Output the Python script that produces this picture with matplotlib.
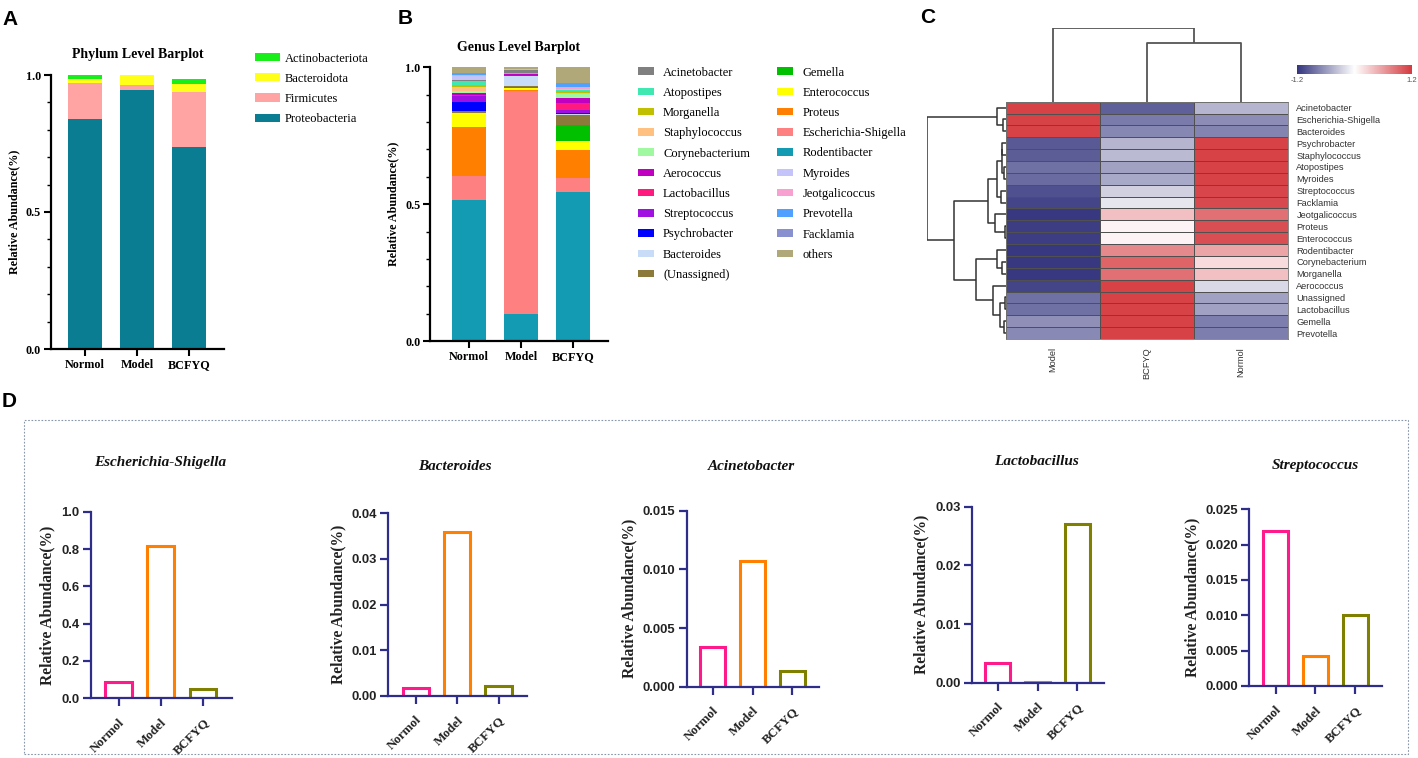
import numpy as np
import matplotlib
matplotlib.use('Agg')
import matplotlib.pyplot as plt
from matplotlib.colors import LinearSegmentedColormap
from matplotlib.patches import Patch, Rectangle
from matplotlib.ticker import MultipleLocator

W, H = 1418, 758
serif = 'Liberation Serif'
sans = 'Liberation Sans'
plt.rcParams['font.family'] = [sans, 'DejaVu Sans']

# ---------------- data ----------------
groups = ['Normol', 'Model', 'BCFYQ']

# Panel A (phylum), stacked bottom -> top
phyla = ['Proteobacteria', 'Firmicutes', 'Bacteroidota', 'Actinobacteriota']
proteobacteria = [0.838, 0.945, 0.736]
firmicutes = [0.132, 0.018, 0.203]
bacteroidota = [0.014, 0.037, 0.028]
actinobacteriota = [0.016, 0.000, 0.018]

# Panel B (genus), values for Normol, Model, BCFYQ
rodentibacter = [0.515, 0.097, 0.546]
escherichia = [0.087, 0.815, 0.048]
proteus = [0.180, 0.005, 0.105]
enterococcus = [0.050, 0.008, 0.030]
gemella = [0.001, 0.004, 0.062]
unassigned = [0.007, 0.002, 0.036]
bacteroides = [0.0018, 0.036, 0.0022]
psychrobacter = [0.030, 0.001, 0.004]
streptococcus = [0.022, 0.0042, 0.010]
lactobacillus = [0.0033, 0.0002, 0.027]
aerococcus = [0.008, 0.002, 0.018]
corynebacterium = [0.007, 0.001, 0.014]
staphylococcus = [0.017, 0.001, 0.003]
morganella = [0.005, 0.001, 0.008]
atopostipes = [0.017, 0.001, 0.003]
acinetobacter = [0.0034, 0.0107, 0.0013]
myroides = [0.012, 0.002, 0.004]
jeotgalicoccus = [0.007, 0.001, 0.005]
prevotella = [0.001, 0.0005, 0.012]
facklamia = [0.005, 0.002, 0.004]
others = [0.0205, 0.0054, 0.058]

genus_stack = [
    ('Rodentibacter', rodentibacter), ('Escherichia-Shigella', escherichia),
    ('Proteus', proteus), ('Enterococcus', enterococcus), ('Gemella', gemella),
    ('(Unassigned)', unassigned), ('Bacteroides', bacteroides),
    ('Psychrobacter', psychrobacter), ('Streptococcus', streptococcus),
    ('Lactobacillus', lactobacillus), ('Aerococcus', aerococcus),
    ('Corynebacterium', corynebacterium), ('Staphylococcus', staphylococcus),
    ('Morganella', morganella), ('Atopostipes', atopostipes),
    ('Acinetobacter', acinetobacter), ('Myroides', myroides),
    ('Jeotgalicoccus', jeotgalicoccus), ('Prevotella', prevotella),
    ('Facklamia', facklamia), ('others', others)]
genus_legend_order = ['Acinetobacter', 'Atopostipes', 'Morganella', 'Staphylococcus',
                      'Corynebacterium', 'Aerococcus', 'Lactobacillus', 'Streptococcus',
                      'Psychrobacter', 'Bacteroides', '(Unassigned)', 'Gemella',
                      'Enterococcus', 'Proteus', 'Escherichia-Shigella', 'Rodentibacter',
                      'Myroides', 'Jeotgalicoccus', 'Prevotella', 'Facklamia', 'others']

# Panel C heatmap (z-scores)
hm_rows = ['Acinetobacter', 'Escherichia-Shigella', 'Bacteroides', 'Psychrobacter',
           'Staphylococcus', 'Atopostipes', 'Myroides', 'Streptococcus', 'Facklamia',
           'Jeotgalicoccus', 'Proteus', 'Enterococcus', 'Rodentibacter', 'Corynebacterium',
           'Morganella', 'Aerococcus', 'Unassigned', 'Lactobacillus', 'Gemella', 'Prevotella']
hm_cols = ['Model', 'BCFYQ', 'Normol']
z_model = [1.15, 1.15, 1.15, -0.98, -0.96, -0.85, -0.88, -1.04, -1.10, -1.18, -1.15, -1.15,
           -1.18, -1.18, -1.18, -1.10, -0.85, -0.85, -0.66, -0.70]
z_bcfyq = [-0.94, -0.78, -0.71, -0.44, -0.41, -0.56, -0.51, -0.28, -0.15, 0.38, 0.07, 0.07,
           0.72, 0.94, 0.87, 1.15, 1.15, 1.15, 1.15, 1.15]
z_normol = [-0.44, -0.68, -0.73, 1.15, 1.15, 1.15, 1.15, 1.12, 1.10, 0.87, 1.07, 1.07,
            0.55, 0.21, 0.38, -0.23, -0.56, -0.56, -0.76, -0.76]
row_tree = (237,
            (25, 'Acinetobacter', (7, 'Escherichia-Shigella', 'Bacteroides')),
            (154,
             (52,
              (25,
               (12, (10, 'Psychrobacter', 'Staphylococcus'), (5, 'Atopostipes', 'Myroides')),
               (15, 'Streptococcus', 'Facklamia')),
              (32, 'Jeotgalicoccus', (2, 'Proteus', 'Enterococcus'))),
             (90,
              (25, 'Rodentibacter', (12, 'Corynebacterium', 'Morganella')),
              (39, 'Aerococcus', (17, (2, 'Unassigned', 'Lactobacillus'),
                                  (4, 'Gemella', 'Prevotella'))))))
col_tree = (220, 'Model', (175, 'BCFYQ', 'Normol'))

# Panel D
d_titles = ['Escherichia-Shigella', 'Bacteroides', 'Acinetobacter', 'Lactobacillus', 'Streptococcus']
d_values = [escherichia, bacteroides, acinetobacter, lactobacillus, streptococcus]
d_ymax = [1.0, 0.04, 0.015, 0.03, 0.025]
d_ystep = [0.2, 0.01, 0.005, 0.01, 0.005]
d_fmt = ['%.1f', '%.2f', '%.3f', '%.2f', '%.3f']

# ---------------- styles ----------------
phylum_colors = ['#0b7d92', '#ffa3a3', '#ffff1a', '#1aee1a']
genus_colors = {
    'Acinetobacter': '#808080', 'Atopostipes': '#3ee8b0', 'Morganella': '#c0c000',
    'Staphylococcus': '#ffc080', 'Corynebacterium': '#a0f8a0', 'Aerococcus': '#c000c0',
    'Lactobacillus': '#ff1a80', 'Streptococcus': '#a010e0', 'Psychrobacter': '#0000ff',
    'Bacteroides': '#c8dcf8', '(Unassigned)': '#8b7a3a', 'Gemella': '#00c000',
    'Enterococcus': '#ffff00', 'Proteus': '#ff8000', 'Escherichia-Shigella': '#ff8080',
    'Rodentibacter': '#129bb3', 'Myroides': '#c4c4fa', 'Jeotgalicoccus': '#f8a0d0',
    'Prevotella': '#50a0ff', 'Facklamia': '#8890d0', 'others': '#b0a878'}
group_edge = ['#ff1a8c', '#ff8000', '#808000']
navy = '#2e2e8a'

fig = plt.figure(figsize=(W / 100, H / 100), dpi=100)


def add_px(l, t, r, b):
    return fig.add_axes([l / W, 1 - b / H, (r - l) / W, (b - t) / H])


def style_stack(ax, title, xlim):
    ax.set_xlim(*xlim)
    ax.set_ylim(0, 1)
    for s in ['top', 'right']:
        ax.spines[s].set_visible(False)
    for s in ['left', 'bottom']:
        ax.spines[s].set_linewidth(1.6)
    ax.set_xticks(range(3))
    ax.set_xticklabels(groups, fontfamily=serif, fontweight='bold', fontsize=8.7)
    ax.set_yticks([0, 0.5, 1.0])
    ax.set_yticklabels(['0.0', '0.5', '1.0'], fontfamily=serif, fontweight='bold', fontsize=8.7)
    ax.yaxis.set_minor_locator(MultipleLocator(0.1))
    ax.tick_params(axis='both', which='major', length=5, width=1.5, pad=2)
    ax.tick_params(axis='y', which='minor', length=3, width=1.0)
    ax.set_ylabel('Relative Abundance(%)', fontfamily=serif, fontweight='bold', fontsize=8.7, labelpad=4)
    ax.set_title(title, fontfamily=serif, fontweight='bold', fontsize=10, pad=12)


# ---------------- Panel A ----------------
axA = add_px(50.7, 75, 224, 349)
x = np.arange(3)
bottom = np.zeros(3)
for vals, col in zip([proteobacteria, firmicutes, bacteroidota, actinobacteriota], phylum_colors):
    axA.bar(x, vals, 0.65, bottom=bottom, color=col, linewidth=0)
    bottom += np.array(vals)
style_stack(axA, 'Phylum Level Barplot', (-0.66, 2.67))
handlesA = [Patch(facecolor=c, edgecolor='none') for c in phylum_colors[::-1]]
fig.legend(handlesA, phyla[::-1], loc='upper left', bbox_to_anchor=(255 / W, 1 - 52.5 / H),
           frameon=False, prop=dict(family=serif, size=9), handlelength=2.0, handleheight=0.64,
           handletextpad=0.4, labelspacing=0.66, borderaxespad=0, borderpad=0)

# ---------------- Panel B ----------------
axB = add_px(430, 67.3, 608, 341)
bottom = np.zeros(3)
for name, vals in genus_stack:
    axB.bar(x, vals, 0.65, bottom=bottom, color=genus_colors[name], linewidth=0)
    bottom += np.array(vals)
style_stack(axB, 'Genus Level Barplot', (-0.75, 2.67))
handlesB = [Patch(facecolor=genus_colors[n], edgecolor='none') for n in genus_legend_order]
fig.legend(handlesB, genus_legend_order, loc='upper left', bbox_to_anchor=(638 / W, 1 - 66.5 / H),
           ncol=2, frameon=False, prop=dict(family=serif, size=9), handlelength=1.28,
           handleheight=0.56, handletextpad=0.72, labelspacing=0.66, columnspacing=2.2,
           borderaxespad=0, borderpad=0)

# ---------------- Panel C ----------------
cmap = LinearSegmentedColormap.from_list('bwr_c', ['#34357e', '#ffffff', '#d53a40'])
Z = np.column_stack([z_model, z_bcfyq, z_normol])
axH = add_px(1005.7, 101.7, 1288, 339)
axH.pcolormesh(np.arange(4), np.arange(len(hm_rows) + 1), Z, cmap=cmap, vmin=-1.2, vmax=1.2,
               edgecolors='#505050', linewidth=0.6)
axH.set_xlim(0, 3)
axH.set_ylim(len(hm_rows), 0)
axH.yaxis.tick_right()
axH.set_yticks(np.arange(len(hm_rows)) + 0.5)
axH.set_yticklabels(hm_rows, fontsize=6.7, color='#333333')
axH.set_xticks(np.arange(3) + 0.5)
axH.set_xticklabels(hm_cols, rotation=90, fontsize=6.7, color='#333333')
axH.tick_params(length=0, pad=6)
for s in axH.spines.values():
    s.set_color('#777777')
    s.set_linewidth(0.6)


def draw_tree(ax, node, order, orient):
    if isinstance(node, str):
        return order.index(node) + 0.5, 0.0
    h, left, right = node
    pl, hl = draw_tree(ax, left, order, orient)
    pr, hr = draw_tree(ax, right, order, orient)
    hs = [hl, h, h, hr]
    ps = [pl, pl, pr, pr]
    if orient == 'left':
        ax.plot(hs, ps, color='#333333', lw=1.1, solid_capstyle='butt')
    else:
        ax.plot(ps, hs, color='#555555', lw=1.3, solid_capstyle='butt')
    return (pl + pr) / 2, h


axRD = add_px(926.7, 101.7, 1005.7, 339)
draw_tree(axRD, row_tree, hm_rows, 'left')
axRD.set_xlim(row_tree[0], 0)
axRD.set_ylim(len(hm_rows), 0)
axRD.axis('off')

axCD = add_px(1005.7, 28.3, 1288, 101.7)
draw_tree(axCD, col_tree, hm_cols, 'top')
axCD.set_xlim(0, 3)
axCD.set_ylim(0, col_tree[0])
axCD.axis('off')

cax = add_px(1297, 65, 1412, 74)
cax.imshow(np.linspace(-1.2, 1.2, 256)[None, :], aspect='auto', cmap=cmap, vmin=-1.2, vmax=1.2)
cax.set_xticks([])
cax.set_yticks([])
for s in cax.spines.values():
    s.set_visible(False)
fig.text(1297 / W, 1 - 80 / H, '-1.2', fontsize=5.5, color='#555555', ha='center', va='center')
fig.text(1412 / W, 1 - 80 / H, '1.2', fontsize=5.5, color='#555555', ha='center', va='center')

# ---------------- Panel D ----------------
fig.add_artist(Rectangle((24 / W, 1 - 754 / H), (1408 - 24) / W, (754 - 420) / H,
                         transform=fig.transFigure, fill=False, edgecolor='#8796a8',
                         lw=0.8, ls=(0, (1.5, 1.5))))
d_boxes = [(90.7, 511.7, 231.7, 698.3), (388.3, 513.3, 526.7, 696),
           (686.7, 510.7, 819.3, 686.7), (971.7, 506.7, 1104.3, 682.7),
           (1249.3, 509.3, 1382.3, 686)]
d_title_pos = [(160, 462.7), (455, 466.7), (751.7, 466), (1036.7, 461.7), (1315, 465)]

for i in range(5):
    ax = add_px(*d_boxes[i])
    ax.bar(x, d_values[i], 0.63, color='white', edgecolor=group_edge, linewidth=2.2)
    ax.set_xlim(-0.66, 2.68)
    ax.set_ylim(0, d_ymax[i])
    ticks = np.arange(0, d_ymax[i] + d_ystep[i] / 2, d_ystep[i])
    ax.set_yticks(ticks)
    ax.set_yticklabels([d_fmt[i] % t for t in ticks], fontfamily=sans, fontweight='bold',
                       fontsize=9.4, color='#222222')
    ax.set_xticks(x)
    ax.set_xticklabels(groups, rotation=45, ha='right', va='top', rotation_mode='anchor',
                       fontfamily=serif, fontweight='bold', fontsize=9.4, color='#222222')
    for s in ['top', 'right']:
        ax.spines[s].set_visible(False)
    for s in ['left', 'bottom']:
        ax.spines[s].set_color(navy)
        ax.spines[s].set_linewidth(1.6)
    ax.tick_params(axis='both', length=6, width=1.6, color=navy, pad=2)
    ax.tick_params(axis='x', pad=7)
    ax.set_ylabel('Relative Abundance(%)', fontfamily=serif, fontweight='bold', fontsize=11.2,
                  color='#222222', labelpad=4)
    tx, ty = d_title_pos[i]
    fig.text(tx / W, 1 - ty / H, d_titles[i], fontfamily=serif, fontweight='bold',
             style='italic', fontsize=11, ha='center', va='center', color='#111111')

# panel letters
for letter, px, py in [('A', 2, 25), ('B', 398, 24), ('C', 920, 23), ('D', 2, 407)]:
    fig.text(px / W, 1 - py / H, letter, fontsize=15, fontweight='bold', fontfamily=sans,
             ha='left', va='baseline')

fig.savefig('out.png', dpi=100)
